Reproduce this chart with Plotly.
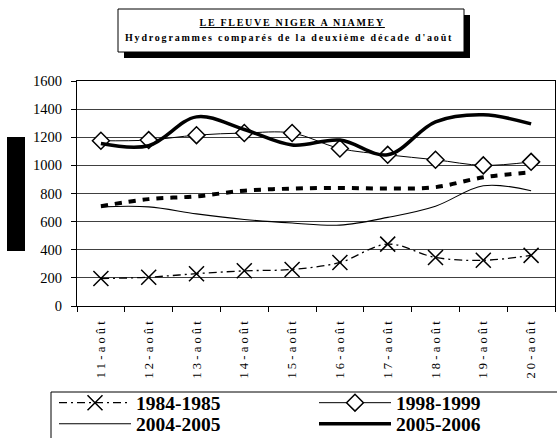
import plotly.graph_objects as go

dates = ["11-août", "12-août", "13-août", "14-août", "15-août",
         "16-août", "17-août", "18-août", "19-août", "20-août"]
s1984 = [195, 205, 230, 250, 260, 310, 440, 345, 325, 360]
s1998 = [1175, 1180, 1215, 1230, 1230, 1120, 1075, 1040, 1000, 1025]
s2004 = [705, 705, 655, 615, 590, 575, 630, 710, 855, 820]
s2005 = [1155, 1140, 1345, 1255, 1145, 1180, 1075, 1310, 1360, 1295]
s_other = [710, 760, 780, 820, 835, 840, 835, 845, 915, 950]
y_ticks = [0, 200, 400, 600, 800, 1000, 1200, 1400, 1600]

title1 = "LE FLEUVE NIGER A NIAMEY"
title2 = "Hydrogrammes comparés de la deuxième décade d'août"

W, H = 557, 438
L, R, T, B = 77, 2, 81, 132
PW, PH = W - L - R, H - T - B


def px(x):
    return (x - L) / PW


def py(y):
    return (H - B - y) / PH


SERIF = "Liberation Serif, Times New Roman, serif"

fig = go.Figure()
fig.add_trace(go.Scatter(
    x=dates, y=s1984, name="1984-1985", mode="lines+markers", legend="legend",
    line=dict(color="black", width=1.3, dash="8px,4px,2px,4px", shape="spline"),
    marker=dict(symbol="x-thin", size=15, color="black",
                line=dict(color="black", width=1.5))))
fig.add_trace(go.Scatter(
    x=dates, y=s1998, name="1998-1999", mode="lines+markers", legend="legend2",
    line=dict(color="black", width=1, shape="spline"),
    marker=dict(symbol="diamond", size=13, color="white",
                line=dict(color="black", width=1.5))))
fig.add_trace(go.Scatter(
    x=dates, y=s2004, name="2004-2005", mode="lines", legend="legend3",
    line=dict(color="black", width=1.1, shape="spline")))
fig.add_trace(go.Scatter(
    x=dates, y=s2005, name="2005-2006", mode="lines", legend="legend4",
    line=dict(color="black", width=3.5, shape="spline")))
fig.add_trace(go.Scatter(
    x=dates, y=s_other, name="série", mode="lines", showlegend=False,
    line=dict(color="black", width=4, dash="7px,7px", shape="spline")))

shapes = [
    dict(type="rect", xref="paper", yref="paper",
         x0=px(124), x1=px(470), y0=py(58), y1=py(15),
         fillcolor="black", line=dict(width=0)),
    dict(type="rect", xref="paper", yref="paper",
         x0=px(118), x1=px(464), y0=py(52), y1=py(9),
         fillcolor="white", line=dict(color="black", width=1)),
    dict(type="rect", xref="paper", yref="paper",
         x0=px(51), x1=px(562), y0=py(445), y1=py(392),
         fillcolor="rgba(0,0,0,0)", line=dict(color="black", width=1)),
    dict(type="rect", xref="paper", yref="paper",
         x0=px(7), x1=px(25), y0=py(251), y1=py(137),
         fillcolor="black", line=dict(width=0)),
]

annotations = [
    dict(text=title1, xref="paper", yref="paper", x=px(292), y=py(22),
         xanchor="center", yanchor="middle", showarrow=False,
         font=dict(family=SERIF, size=10, color="black", weight="bold",
                   lineposition="under")),
    dict(text=title2, xref="paper", yref="paper", x=px(289), y=py(37),
         xanchor="center", yanchor="middle", showarrow=False,
         font=dict(family=SERIF, size=10, color="black", weight="bold")),
]


def leg(xp, yp):
    return dict(orientation="v", x=px(xp), y=py(yp), xanchor="left", yanchor="middle",
                itemwidth=72,
                font=dict(family=SERIF, size=19.5, color="black", weight="bold"),
                bgcolor="rgba(0,0,0,0)", borderwidth=0)


fig.update_layout(
    width=W, height=H,
    margin=dict(l=L, r=R, t=T, b=B, autoexpand=False),
    paper_bgcolor="white", plot_bgcolor="white",
    shapes=shapes, annotations=annotations,
    showlegend=True,
    legend=leg(54, 403), legend2=leg(314, 403),
    legend3=leg(54, 424), legend4=leg(314, 424),
    xaxis=dict(type="category", range=[-0.5, 9.5], tickangle=-90,
               showline=True, linecolor="black", linewidth=1, mirror=True,
               ticks="outside", tickson="boundaries", ticklen=5, tickcolor="black",
               ticklabelstandoff=6,
               showgrid=False, tickfont=dict(family=SERIF, size=12.5, color="black")),
    yaxis=dict(range=[0, 1600], tickvals=y_ticks,
               showline=True, linecolor="black", linewidth=1, mirror=True,
               ticks="outside", ticklen=5, tickcolor="black", ticklabelstandoff=6,
               showgrid=True, gridcolor="#404040", gridwidth=1, zeroline=False,
               tickfont=dict(family=SERIF, size=14.5, color="black")),
)

post = """
document.body.style.margin = '0';
document.body.style.padding = '0';
var gd = document.getElementById('{plot_id}');
gd.querySelectorAll('.xtick text').forEach(function(t){t.style.letterSpacing='3.2px';});
var a = gd.querySelectorAll('.annotation-text');
if (a[0]) a[0].style.letterSpacing='1.7px';
if (a[1]) a[1].style.letterSpacing='1.8px';
"""

fig.write_html("out.html", post_script=post, config={"displayModeBar": False})
